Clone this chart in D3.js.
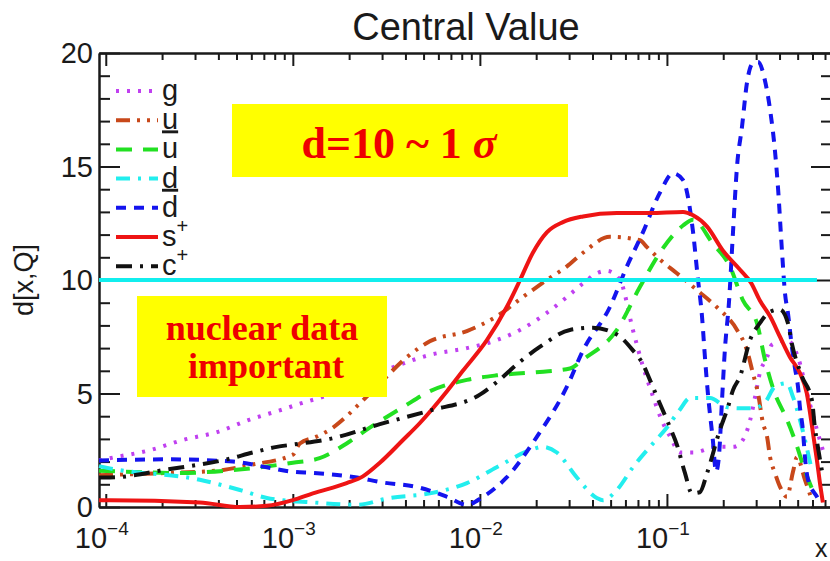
<!DOCTYPE html>
<html>
<head>
<meta charset="utf-8">
<script src="https://cdn.jsdelivr.net/npm/d3@7"></script>
<style>
  body { margin: 0; background: #fff; }
  svg { display: block; }
</style>
</head>
<body>
<svg id="chart" width="830" height="561"></svg>
<script>
// ---- data: [x, d[x,Q]] along each parton curve ----
const gPts = [
  [9.2e-5, 2.05], [1.05e-4, 2.15], [1.72e-4, 2.5], [2.58e-4, 2.95], [3.93e-4, 3.3],
  [5.89e-4, 3.85], [8.85e-4, 4.3], [1.09e-3, 4.55], [1.58e-3, 4.95], [3.42e-3, 6.15],
  [5.4e-3, 6.7], [8.52e-3, 7.0], [1.23e-2, 7.35], [1.64e-2, 7.8], [2.28e-2, 8.55],
  [2.92e-2, 9.25], [3.56e-2, 9.85], [4.22e-2, 10.3], [4.78e-2, 10.4], [5.61e-2, 10.0],
  [6.58e-2, 7.8], [7.44e-2, 6.2], [8.32e-2, 5.0], [0.094, 3.8], [0.104, 3.1],
  [0.1175, 2.4], [0.138, 2.4], [0.185, 2.65], [0.2255, 2.65], [0.246, 2.8],
  [0.278, 3.8], [0.296, 4.85], [0.314, 5.9], [0.343, 6.6], [0.364, 7.15],
  [0.438, 7.35], [0.502, 6.6], [0.568, 4.85], [0.634, 3.4], [0.682, 2.5]
];
const uPts = [
  [9.2e-5, 1.4], [2.12e-4, 1.5], [3.93e-4, 1.6], [5.89e-4, 1.85], [1.0e-3, 2.3],
  [1.09e-3, 2.8], [1.34e-3, 3.1], [1.64e-3, 3.5], [1.94e-3, 4.0], [2.37e-3, 4.7],
  [2.81e-3, 5.3], [4.07e-3, 6.6], [5.4e-3, 7.3], [8.52e-3, 7.75], [1.23e-2, 8.4],
  [1.70e-2, 9.25], [2.28e-2, 10.0], [2.92e-2, 10.6], [3.56e-2, 11.2], [4.95e-2, 11.9],
  [7.18e-2, 11.75], [7.82e-2, 11.45], [9.18e-2, 10.9], [0.113, 10.3], [0.145, 9.55],
  [0.185, 8.8], [0.237, 7.8], [0.268, 6.9], [0.288, 5.9], [0.307, 5.0],
  [0.326, 3.7], [0.343, 3.1], [0.356, 2.2], [0.378, 1.5], [0.402, 0.9],
  [0.438, 0.45], [0.472, 1.55], [0.496, 2.2], [0.547, 1.2], [0.596, 0.3]
];
const ubarPts = [
  [9.2e-5, 1.6], [2.49e-4, 1.5], [5.89e-4, 1.7], [1.0e-3, 1.95], [1.39e-3, 2.15],
  [1.94e-3, 2.8], [2.58e-3, 3.5], [3.88e-3, 4.4], [5.4e-3, 5.1], [8.52e-3, 5.6],
  [1.23e-2, 5.8], [2.09e-2, 5.95], [3.03e-2, 6.1], [3.56e-2, 6.5], [5.4e-2, 7.8],
  [7.18e-2, 9.7], [9.52e-2, 11.4], [0.122, 12.4], [0.138, 12.65], [0.176, 11.6],
  [0.217, 10.6], [0.255, 9.1], [0.303, 8.1], [0.334, 6.5], [0.372, 5.15],
  [0.438, 3.85], [0.483, 2.95], [0.547, 1.6], [0.618, 0.5]
];
const dPts = [
  [9.2e-5, 1.8], [1.05e-4, 1.7], [3.18e-4, 1.2], [5.21e-4, 0.75], [7.26e-4, 0.4],
  [8.85e-4, 0.3], [1.28e-3, 0.2], [2.20e-3, 0.1], [3.30e-3, 0.4], [5.4e-3, 0.6],
  [8.52e-3, 1.05], [1.23e-2, 1.75], [1.85e-2, 2.5], [2.17e-2, 2.65], [2.58e-2, 2.4],
  [3.30e-2, 1.3], [4.22e-2, 0.4], [4.55e-2, 0.3], [5.40e-2, 0.75], [6.58e-2, 1.75],
  [8.11e-2, 2.65], [0.1, 3.5], [0.1175, 4.3], [0.133, 4.8], [0.170, 4.8],
  [0.209, 4.4], [0.246, 4.35], [0.288, 4.35], [0.334, 4.6], [0.378, 5.3],
  [0.438, 5.45], [0.472, 4.85], [0.514, 3.85], [0.547, 2.95], [0.596, 1.6]
];
const dbarPts = [
  [9.2e-5, 2.05], [2.12e-4, 2.1], [4.78e-4, 2.0], [7.26e-4, 1.75], [1.0e-3, 1.55],
  [1.28e-3, 1.5], [2.20e-3, 1.3], [2.92e-3, 1.1], [4.78e-3, 0.85], [6.67e-3, 0.45],
  [8.52e-3, 0.1], [1.04e-2, 0.45], [1.39e-2, 1.3], [2.02e-2, 3.1], [2.92e-2, 5.3],
  [3.56e-2, 6.9], [4.95e-2, 8.8], [6.11e-2, 10.6], [7.44e-2, 12.1], [9.18e-2, 13.85],
  [0.108, 14.7], [0.122, 14.4], [0.138, 12.1], [0.146, 10.15], [0.154, 8.4],
  [0.160, 6.5], [0.1656, 5.0], [0.176, 2.95], [0.183, 1.55], [0.190, 2.3],
  [0.197, 4.7], [0.204, 6.9], [0.215, 9.1], [0.2255, 12.1], [0.237, 15.0],
  [0.252, 16.75], [0.268, 18.7], [0.288, 19.55], [0.307, 19.6], [0.334, 18.8],
  [0.356, 17.5], [0.378, 15.7], [0.393, 14.0], [0.412, 11.3], [0.428, 9.4],
  [0.4436, 8.55], [0.4656, 7.05], [0.483, 6.15], [0.502, 5.3], [0.514, 4.4],
  [0.533, 3.4], [0.547, 2.2], [0.568, 1.2], [0.634, 0.45], [0.658, 0.2]
];
const sPlusPts = [
  [9.2e-5, 0.3], [1.05e-4, 0.3], [3.18e-4, 0.2], [5.21e-4, 0.0], [7.26e-4, 0.05],
  [1.0e-3, 0.3], [1.28e-3, 0.6], [1.94e-3, 1.05], [2.37e-3, 1.35], [2.92e-3, 1.95],
  [3.88e-3, 2.95], [4.78e-3, 3.7], [5.61e-3, 4.35], [6.67e-3, 5.1], [8.11e-3, 6.0],
  [1.09e-2, 7.35], [1.39e-2, 8.8], [1.64e-2, 10.0], [1.92e-2, 11.2], [2.28e-2, 12.1],
  [2.78e-2, 12.55], [3.56e-2, 12.8], [5.40e-2, 12.95], [8.11e-2, 12.95], [0.122, 13.0],
  [0.138, 12.85], [0.164, 12.35], [0.199, 11.3], [0.246, 10.45], [0.283, 9.85],
  [0.314, 9.1], [0.356, 8.4], [0.402, 7.5], [0.455, 6.6], [0.514, 5.9],
  [0.560, 5.0], [0.582, 4.15], [0.604, 3.25], [0.634, 2.05], [0.658, 1.05],
  [0.682, 0.2]
];
const cPlusPts = [
  [9.2e-5, 1.3], [1.05e-4, 1.3], [2.12e-4, 1.65], [4.44e-4, 2.1], [6.11e-4, 2.4],
  [8.21e-4, 2.65], [1.0e-3, 2.75], [1.58e-3, 3.0], [2.92e-3, 3.65], [5.40e-3, 4.25],
  [1.0e-2, 4.95], [1.23e-2, 5.5], [1.64e-2, 6.4], [2.09e-2, 7.05], [3.03e-2, 7.8],
  [4.02e-2, 7.9], [5.40e-2, 7.6], [6.58e-2, 6.9], [7.44e-2, 6.3], [8.11e-2, 5.6],
  [8.85e-2, 4.85], [0.104, 3.5], [0.113, 2.75], [0.1248, 1.5], [0.136, 0.6],
  [0.150, 0.65], [0.164, 1.5], [0.192, 3.4], [0.212, 4.4], [0.2255, 5.15],
  [0.246, 5.75], [0.278, 7.35], [0.314, 8.1], [0.356, 8.6], [0.402, 8.7],
  [0.4436, 8.1], [0.4656, 7.2], [0.527, 5.75], [0.596, 4.7], [0.618, 3.5],
  [0.641, 2.65], [0.674, 1.6]
];

// legend entries in drawing order
const seriesLabels = ["g", "u", "u", "d", "d", "s", "c"];
const labelOverline = [false, false, true, false, true, false, false];
const labelSup = ["", "", "", "", "", "+", "+"];
const seriesColors = ["#c040f0", "#c8481a", "#22e022", "#22eeee", "#1414ee", "#ee1414", "#111111"];
const seriesDash = ["3,8", "14,7,3,7,3,7", "16,11", "14,8,3,8", "10,8", null, "16,8,3,8"];
const seriesData = [gPts, uPts, ubarPts, dPts, dbarPts, sPlusPts, cPlusPts];

// reference level and axis ticks
const sigmaLevel = 10;
const sigmaLineEnd = 0.634;
const xDomain = [9.2e-5, 0.763];
const yDomain = [0, 20];
const xMajorTicks = [1e-4, 1e-3, 1e-2, 1e-1];
const xTickExponents = ["\u22124", "\u22123", "\u22122", "\u22121"];
const yMajorTicks = [0, 5, 10, 15, 20];

const svg = d3.select("#chart");
const W = 830, H = 561;
const plot = { left: 99, right: 832, top: 53, bottom: 507 };

const x = d3.scaleLog().domain(xDomain).range([plot.left, plot.right]);
const y = d3.scaleLinear().domain(yDomain).range([plot.bottom, plot.top]);

svg.append("rect").attr("width", W).attr("height", H).attr("fill", "#fff");

// minor x ticks: 2..9 in each decade
const xMinorTicks = [];
xMajorTicks.forEach(t => { for (let k = 2; k <= 9; k++) { const v = t * k; if (v < xDomain[1]) xMinorTicks.push(v); } });
const yMinorTicks = d3.range(0, 21).filter(v => v % 5 !== 0);

const axisColor = "#1a1a1a";
function styleAxis(g) {
  g.selectAll("path, line").attr("stroke", axisColor).attr("stroke-width", 2);
  g.selectAll("text").remove();
}

// bottom and top x axes (ticks point into the frame)
svg.append("g").attr("transform", `translate(0,${plot.bottom})`)
  .call(d3.axisBottom(x).tickValues(xMajorTicks).tickSizeInner(-13).tickSizeOuter(0)).call(styleAxis);
svg.append("g").attr("transform", `translate(0,${plot.bottom})`)
  .call(d3.axisBottom(x).tickValues(xMinorTicks).tickSizeInner(-7).tickSizeOuter(0)).call(styleAxis);
svg.append("g").attr("transform", `translate(0,${plot.top})`)
  .call(d3.axisTop(x).tickValues(xMajorTicks).tickSizeInner(-13).tickSizeOuter(0)).call(styleAxis);
svg.append("g").attr("transform", `translate(0,${plot.top})`)
  .call(d3.axisTop(x).tickValues(xMinorTicks).tickSizeInner(-7).tickSizeOuter(0)).call(styleAxis);

// left and right y axes
svg.append("g").attr("transform", `translate(${plot.left},0)`)
  .call(d3.axisLeft(y).tickValues(yMajorTicks).tickSizeInner(-21).tickSizeOuter(0)).call(styleAxis);
svg.append("g").attr("transform", `translate(${plot.left},0)`)
  .call(d3.axisLeft(y).tickValues(yMinorTicks).tickSizeInner(-11).tickSizeOuter(0)).call(styleAxis);
svg.append("g").attr("transform", `translate(${plot.right},0)`)
  .call(d3.axisRight(y).tickValues(yMajorTicks).tickSizeInner(-21).tickSizeOuter(0)).call(styleAxis);
svg.append("g").attr("transform", `translate(${plot.right},0)`)
  .call(d3.axisRight(y).tickValues(yMinorTicks).tickSizeInner(-11).tickSizeOuter(0)).call(styleAxis);

// tick labels
const sans = "'Liberation Sans', Arial, Helvetica, sans-serif";
svg.append("g").selectAll("text").data(yMajorTicks).join("text")
  .attr("x", plot.left - 6).attr("y", d => y(d) + 10)
  .attr("text-anchor", "end").attr("font-family", sans).attr("font-size", 29).attr("fill", "#1a1a1a")
  .text(d => d);

const xl = svg.append("g").selectAll("text").data(xMajorTicks).join("text")
  .attr("x", d => x(d) - 31).attr("y", 548)
  .attr("font-family", sans).attr("font-size", 29).attr("fill", "#1a1a1a");
xl.append("tspan").text("10");
xl.append("tspan").attr("dy", -13).attr("font-size", 19).text((d, i) => xTickExponents[i]);

// axis titles and chart title
svg.append("text").attr("x", 815).attr("y", 557).attr("font-family", sans).attr("font-size", 25)
  .attr("fill", "#1a1a1a").text("x");
svg.append("text").attr("transform", `translate(33,${(plot.top + plot.bottom) / 2}) rotate(-90)`)
  .attr("text-anchor", "middle").attr("font-family", sans).attr("font-size", 27).attr("fill", "#1a1a1a")
  .text("d[x,Q]");
svg.append("text").attr("x", 466).attr("y", 40).attr("text-anchor", "middle")
  .attr("font-family", sans).attr("font-size", 38).attr("fill", "#1a1a1a")
  .text("Central Value");

// curves
const plotArea = svg.append("g");
const line = d3.line().x(p => x(p[0])).y(p => y(p[1])).curve(d3.curveMonotoneX);
plotArea.selectAll("path.curve").data(seriesData).join("path")
  .attr("class", "curve")
  .attr("d", line)
  .attr("fill", "none")
  .attr("stroke", (d, i) => seriesColors[i])
  .attr("stroke-width", 4)
  .attr("stroke-dasharray", (d, i) => seriesDash[i]);

// horizontal d = 10 level
plotArea.append("line")
  .attr("x1", x(xDomain[0])).attr("x2", x(sigmaLineEnd))
  .attr("y1", y(sigmaLevel)).attr("y2", y(sigmaLevel))
  .attr("stroke", "#11eeee").attr("stroke-width", 4);

// legend
const legY0 = 91, legStep = 29.2;
const leg = svg.append("g");
seriesLabels.forEach((lab, i) => {
  const yy = legY0 + i * legStep;
  leg.append("line").attr("x1", 116).attr("x2", 158).attr("y1", yy).attr("y2", yy)
    .attr("stroke", seriesColors[i]).attr("stroke-width", 4)
    .attr("stroke-dasharray", seriesDash[i]);
  const t = leg.append("text").attr("x", 162).attr("y", yy + 9)
    .attr("font-family", sans).attr("font-size", 29).attr("fill", "#1a1a1a");
  const base = t.append("tspan").text(lab);
  if (labelOverline[i]) base.style("text-decoration", "overline");
  if (labelSup[i]) t.append("tspan").attr("dy", -13).attr("font-size", 20).text(labelSup[i]);
});

// annotation boxes
const serif = "'Liberation Serif', 'Times New Roman', serif";
svg.append("rect").attr("x", 232).attr("y", 104).attr("width", 336).attr("height", 73).attr("fill", "#ffff00");
const t1 = svg.append("text").attr("x", 399).attr("y", 158).attr("text-anchor", "middle")
  .attr("font-family", serif).attr("font-weight", "bold").attr("font-size", 44).attr("fill", "#ee0000");
t1.append("tspan").text("d=10 ~ 1 ");
t1.append("tspan").attr("font-style", "italic").text("\u03c3");

svg.append("rect").attr("x", 137).attr("y", 296).attr("width", 250).attr("height", 101).attr("fill", "#ffff00");
svg.append("text").attr("x", 262).attr("y", 340).attr("text-anchor", "middle")
  .attr("font-family", serif).attr("font-weight", "bold").attr("font-size", 36).attr("fill", "#ee0000")
  .text("nuclear data");
svg.append("text").attr("x", 266).attr("y", 378).attr("text-anchor", "middle")
  .attr("font-family", serif).attr("font-weight", "bold").attr("font-size", 36).attr("fill", "#ee0000")
  .text("important");
</script>
</body>
</html>
